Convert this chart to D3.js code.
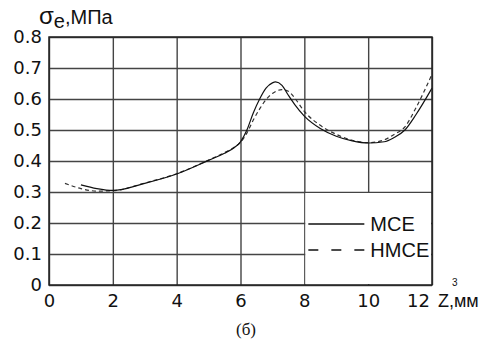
<!DOCTYPE html>
<html>
<head>
<meta charset="utf-8">
<script src="https://cdn.jsdelivr.net/npm/d3@7"></script>
<style>
  body { margin: 0; background: #fff; }
  svg { display: block; }
</style>
</head>
<body>
<div id="chart"></div>
<script>
// data
var zTicks = [0, 2, 4, 6, 8, 10, 12];
var sTicks = [0, 0.1, 0.2, 0.3, 0.4, 0.5, 0.6, 0.7, 0.8];

var zSolid = [1.0, 1.5, 2.0, 3.0, 4.0, 5.0, 5.5, 5.8, 6.0, 6.2, 6.4, 6.6, 6.8, 7.0, 7.1, 7.3, 7.5, 7.7, 8.0, 8.5, 9.0, 9.5, 10.0, 10.5, 10.8, 11.15, 11.5, 12.0];
var sSolid = [0.323, 0.311, 0.305, 0.328, 0.358, 0.402, 0.425, 0.443, 0.462, 0.50, 0.555, 0.60, 0.635, 0.652, 0.655, 0.644, 0.612, 0.582, 0.545, 0.505, 0.48, 0.465, 0.458, 0.462, 0.475, 0.50, 0.55, 0.635];

var zDashed = [0.5, 1.0, 1.5, 2.0, 3.0, 4.0, 5.0, 5.5, 5.8, 6.0, 6.2, 6.4, 6.6, 6.8, 7.0, 7.3, 7.5, 7.7, 8.0, 8.5, 9.0, 9.5, 10.0, 10.5, 10.8, 11.15, 11.5, 12.0];
var sDashed = [0.328, 0.311, 0.303, 0.304, 0.329, 0.359, 0.403, 0.427, 0.444, 0.46, 0.49, 0.532, 0.568, 0.598, 0.618, 0.630, 0.625, 0.603, 0.56, 0.515, 0.486, 0.467, 0.459, 0.468, 0.485, 0.51, 0.572, 0.68];

var seriesNames = ["MCE", "HMCE"];

var margin = { top: 37, right: 66, bottom: 61, left: 49 };
var width = 498 - margin.left - margin.right;
var height = 346 - margin.top - margin.bottom;

var svg = d3.select("#chart")
    .append("svg")
    .attr("width", 498)
    .attr("height", 346)
    .append("g")
    .attr("transform", "translate(" + margin.left + "," + margin.top + ")");

var x = d3.scaleLinear().domain([0, 12]).range([0, width]);
var y = d3.scaleLinear().domain([0, 0.8]).range([height, 0]);

var tickFont = "DejaVu Sans, sans-serif";
var sans = "Liberation Sans, Arial, sans-serif";

// horizontal grid + y labels
var yAxis = svg.append("g")
    .call(d3.axisLeft(y).tickValues(sTicks).tickSize(-width).tickPadding(7)
        .tickFormat(d => d === 0 ? "0" : d3.format(".1f")(d)));
yAxis.select(".domain").remove();
yAxis.selectAll("line").attr("stroke", "#444").attr("stroke-width", 1.4);
yAxis.selectAll("text").style("font-family", tickFont).style("font-size", "18px").attr("fill", "#111");

// vertical grid + x labels
var xAxis = svg.append("g")
    .attr("transform", "translate(0," + height + ")")
    .call(d3.axisBottom(x).tickValues(zTicks).tickSize(-height).tickPadding(9));
xAxis.select(".domain").remove();
xAxis.selectAll("line").attr("stroke", "#444").attr("stroke-width", 1.4);
xAxis.selectAll("text").style("font-family", tickFont).style("font-size", "18px").attr("fill", "#111");
xAxis.selectAll("text").filter(d => d === 12).attr("dx", -14);

// legend background hides the grid below 0.3 right of 8
svg.append("rect")
    .attr("x", x(8) + 1)
    .attr("y", y(0.3) + 1)
    .attr("width", x(12) - x(8) - 2)
    .attr("height", y(0) - y(0.3) - 2)
    .attr("fill", "#fff");

// curves
var line = d3.line()
    .x(d => x(d[0]))
    .y(d => y(d[1]))
    .curve(d3.curveMonotoneX);

svg.append("path")
    .datum(d3.zip(zDashed, sDashed))
    .attr("d", line)
    .attr("fill", "none")
    .attr("stroke", "#333")
    .attr("stroke-width", 1.2)
    .attr("stroke-dasharray", "4,3");

svg.append("path")
    .datum(d3.zip(zSolid, sSolid))
    .attr("d", line)
    .attr("fill", "none")
    .attr("stroke", "#111")
    .attr("stroke-width", 1.2);

// frame
svg.append("rect")
    .attr("width", width)
    .attr("height", height)
    .attr("fill", "none")
    .attr("stroke", "#222")
    .attr("stroke-width", 1.5);

// legend
var leg = svg.append("g").attr("transform", "translate(" + (x(8) + 4) + "," + (y(0.3) + 32) + ")");
seriesNames.forEach(function(name, i) {
    leg.append("line")
        .attr("x1", 0).attr("x2", 56)
        .attr("y1", i * 26).attr("y2", i * 26)
        .attr("stroke", "#111")
        .attr("stroke-width", 1.6)
        .attr("stroke-dasharray", i === 1 ? "10,13" : null);
    leg.append("text")
        .attr("x", 62)
        .attr("y", i * 26)
        .attr("dy", "0.36em")
        .style("font-family", sans)
        .style("font-size", "20px")
        .attr("fill", "#111")
        .text(name);
});

// y title
var yt = svg.append("text")
    .attr("x", -10)
    .attr("y", -13)
    .style("font-family", sans)
    .style("font-size", "20px")
    .attr("fill", "#111");
yt.append("tspan").style("font-size", "24px").text("σ");
yt.append("tspan").attr("dy", 4).text("e");
yt.append("tspan").attr("dy", -4).text(",МПа");

// x title, superscript kept as its own text
svg.append("text")
    .attr("x", width + 6)
    .attr("y", height + 22)
    .style("font-family", sans)
    .style("font-size", "18px")
    .attr("fill", "#111")
    .text("Z,мм");
svg.append("text")
    .attr("x", width + 20)
    .attr("y", height + 1)
    .style("font-family", sans)
    .style("font-size", "10px")
    .attr("fill", "#111")
    .text("3");

// caption
svg.append("text")
    .attr("x", 197)
    .attr("y", 298)
    .attr("text-anchor", "middle")
    .style("font-family", "Liberation Serif, Times New Roman, serif")
    .style("font-size", "17px")
    .attr("fill", "#111")
    .text("(б)");
</script>
</body>
</html>
